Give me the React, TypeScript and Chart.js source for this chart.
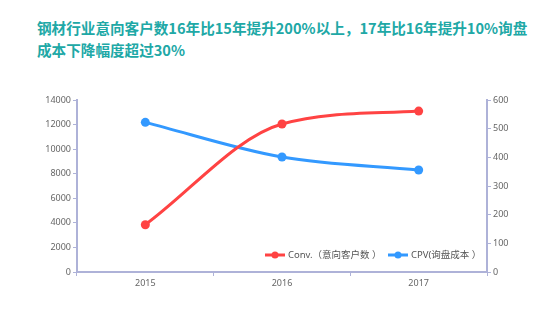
import React, { useEffect, useRef } from "react";
import { Chart, registerables } from "chart.js";

Chart.register(...registerables);

const categories = ["2015", "2016", "2017"];
const convValues = [3850, 12050, 13100];
const cpvValues = [522, 401, 356];
const convLabel = "Conv.（意向客户数 ）";
const cpvLabel = "CPV(询盘成本 ）";
const titleLines = [
  "钢材行业意向客户数16年比15年提升200%以上，17年比16年提升10%询盘",
  "成本下降幅度超过30%",
];

const RED = "#ff4343";
const BLUE = "#3399ff";
const AXIS = "#aeb2d8";
const TICK = "#666666";
const FONT = "'Noto Sans', 'Noto Sans CJK SC', sans-serif";

const legendPlugin = {
  id: "insideLegend",
  afterDraw(chart: any) {
    const ctx = chart.ctx;
    const items = [
      { x: 265, label: convLabel, color: RED },
      { x: 388, label: cpvLabel, color: BLUE },
    ];
    const y = 255;
    ctx.save();
    ctx.font = `9.5px ${FONT}`;
    ctx.textBaseline = "middle";
    for (const it of items) {
      ctx.strokeStyle = it.color;
      ctx.lineWidth = 3;
      ctx.beginPath();
      ctx.moveTo(it.x, y);
      ctx.lineTo(it.x + 20, y);
      ctx.stroke();
      ctx.fillStyle = it.color;
      ctx.beginPath();
      ctx.arc(it.x + 10, y, 3.5, 0, Math.PI * 2);
      ctx.fill();
      ctx.fillStyle = "#555555";
      ctx.fillText(it.label, it.x + 23, y + 0.5);
    }
    ctx.restore();
  },
};

const plainTick = (v: any) => String(v);

export default function App() {
  const ref = useRef<HTMLCanvasElement>(null);
  useEffect(() => {
    if (!ref.current) return;
    const chart = new Chart(ref.current, {
      type: "line",
      data: {
        labels: categories,
        datasets: [
          {
            label: convLabel,
            data: convValues,
            borderColor: RED,
            backgroundColor: RED,
            borderWidth: 3,
            pointRadius: 4.5,
            pointBackgroundColor: RED,
            pointBorderWidth: 0,
            cubicInterpolationMode: "monotone",
            yAxisID: "y",
          },
          {
            label: cpvLabel,
            data: cpvValues,
            borderColor: BLUE,
            backgroundColor: BLUE,
            borderWidth: 3,
            pointRadius: 4.5,
            pointBackgroundColor: BLUE,
            pointBorderWidth: 0,
            cubicInterpolationMode: "monotone",
            yAxisID: "y1",
          },
        ],
      },
      options: {
        animation: false,
        responsive: false,
        maintainAspectRatio: false,
        layout: { padding: { top: 100, left: 0, right: 0, bottom: 0 } },
        plugins: {
          legend: { display: false },
          title: { display: false },
          tooltip: { enabled: false },
        },
        scales: {
          x: {
            offset: true,
            grid: {
              offset: true,
              drawOnChartArea: false,
              color: AXIS,
              tickLength: 4,
            },
            border: { color: AXIS, width: 2 },
            ticks: { color: TICK, font: { size: 9, family: FONT }, padding: 2 },
            afterFit: (s: any) => {
              s.height = 48;
            },
          },
          y: {
            position: "left",
            min: 0,
            max: 14000,
            ticks: {
              stepSize: 2000,
              color: TICK,
              font: { size: 9, family: FONT },
              padding: 2,
              callback: plainTick,
            },
            grid: { drawOnChartArea: false, color: AXIS, tickLength: 4 },
            border: { color: AXIS, width: 2 },
            afterFit: (s: any) => {
              s.width = 77;
            },
          },
          y1: {
            position: "right",
            min: 0,
            max: 600,
            ticks: {
              stepSize: 100,
              color: TICK,
              font: { size: 9, family: FONT },
              padding: 2,
              callback: plainTick,
            },
            grid: { drawOnChartArea: false, color: AXIS, tickLength: 4 },
            border: { color: AXIS, width: 2 },
            afterFit: (s: any) => {
              s.width = 73;
            },
          },
        },
      },
      plugins: [legendPlugin],
    });
    return () => chart.destroy();
  }, []);

  return (
    <div
      style={{
        position: "absolute",
        left: 0,
        top: 0,
        width: 560,
        height: 320,
        background: "#ffffff",
      }}
    >
      <div
        style={{
          position: "absolute",
          left: 37,
          top: 17,
          color: "#20a8a6",
          fontFamily: "'Noto Sans CJK SC', sans-serif",
          fontWeight: 700,
          fontSize: 14.6,
          lineHeight: "22px",
          whiteSpace: "nowrap",
        }}
      >
        {titleLines.map((t, i) => (
          <div key={i}>{t}</div>
        ))}
      </div>
      <canvas
        ref={ref}
        width={560}
        height={320}
        style={{ position: "absolute", left: 0, top: 0, width: 560, height: 320 }}
      />
    </div>
  );
}
